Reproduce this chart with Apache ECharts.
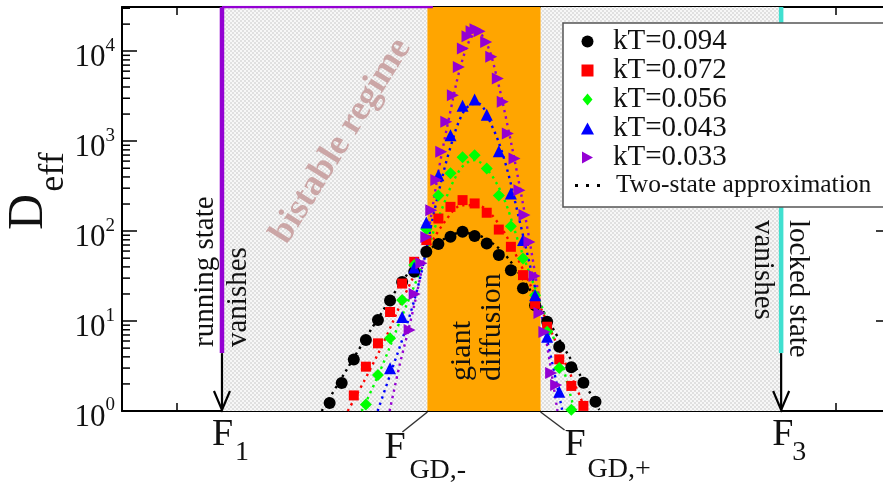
<!DOCTYPE html>
<html><head><meta charset="utf-8">
<script src="https://cdn.jsdelivr.net/npm/echarts@6/dist/echarts.min.js"></script>
<style>html,body{margin:0;padding:0;background:#fff}#c{width:883px;height:485px}</style>
</head><body><div id="c"></div>
<script>
// ---------- data ----------
const FONT = '"Liberation Serif","Times New Roman",serif';
const X_MIN = 0, X_MAX = 70, Y_MIN = 1, Y_MAX = 31000;
const F1 = 9.1, F_GD_MINUS = 27.8, F_GD_PLUS = 38.1, F3 = 60;
const ARROW_TOP = 4.4, RUN_TOP_END = 28.3;

const seriesNames = ['kT=0.094', 'kT=0.072', 'kT=0.056', 'kT=0.043', 'kT=0.033'];
const TWO_STATE = 'Two-state approximation';

const xBlack = [18.9, 20.0, 21.1, 22.2, 23.3, 24.4, 25.5, 26.6, 27.7, 28.8, 29.9, 31.0, 32.1, 33.2, 34.3, 35.4, 36.5, 37.6, 38.7, 39.8, 40.9, 42.0, 43.1];
const yBlack = [1.23, 2.05, 3.73, 6.15, 10.3, 16.9, 27.1, 35.3, 58.9, 71.7, 86.4, 98.2, 88.0, 73.0, 54.1, 36.6, 23.1, 15.0, 9.8, 5.18, 3.06, 2.06, 1.27];

const xRed = [21.1, 22.2, 23.3, 24.4, 25.5, 26.6, 27.7, 28.8, 29.9, 31.0, 32.1, 33.2, 34.3, 35.4, 36.5, 37.6, 38.7, 39.8, 40.9, 42.0];
const yRed = [1.49, 3.11, 5.65, 12.6, 26.1, 45.6, 79.4, 138, 186, 221, 203, 160, 104, 66.9, 32.4, 15.5, 8.65, 3.75, 1.9, 1.14];

const xGreen = [22.2, 23.3, 24.4, 25.5, 26.6, 27.7, 28.8, 29.9, 31.0, 32.1, 33.2, 34.3, 35.4, 36.5, 37.6, 38.7, 39.8, 40.9];
const yGreen = [1.18, 2.51, 6.43, 17.1, 42, 105, 248, 441, 664, 699, 497, 248, 113, 49.7, 19.4, 7.6, 3.0, 1.03];

const xBlue = [24.4, 25.5, 26.6, 27.7, 28.8, 29.9, 31.0, 32.1, 33.2, 34.3, 35.4, 36.5, 37.6, 38.7, 39.8];
const yBlue = [2.98, 11.1, 39.3, 125, 419, 1166, 2479, 2904, 1968, 774, 262, 79.4, 19.4, 6.7, 1.64];

const xPurple = [26.18, 26.64, 27.25, 27.7, 28.15, 28.61, 29.06, 29.52, 30.12, 30.66, 31.03, 31.45, 31.82, 32.18, 32.55, 33.15, 33.61, 34.21, 34.66, 35.12, 35.73, 36.18, 36.64, 37.09, 37.55, 38.0, 38.45, 39.06, 39.52];
const yPurple = [7.94, 19.95, 43.8, 85.8, 171, 369, 761, 1638, 3245, 6693, 10720, 14680, 16680, 17550, 16680, 12690, 8650, 4975, 2734, 1218, 642, 285, 151, 75.5, 31.6, 12.3, 7.55, 2.64, 1.94];

// two-state approximation curves
const xThBlack = [18.18, 19.82, 21.64, 23.45, 25.27, 27.09, 28.91, 30.73, 32.09, 33.45, 34.82, 36.18, 38.0, 39.82, 41.64, 43.45];
const yThBlack = [1.0, 2.15, 5.01, 11.4, 25.1, 48.9, 75.5, 95, 92.6, 77.4, 55.5, 33.3, 15.1, 6.15, 2.58, 1.03];
const xThRed = [20.55, 22.09, 23.91, 25.73, 27.55, 29.36, 31.0, 32.55, 34.36, 36.18, 38.0, 39.82, 41.64, 42.18];
const yThRed = [1.0, 2.21, 6.15, 19.4, 54.1, 126, 194, 190, 117, 45.2, 15.1, 4.76, 1.51, 1.0];
const xThGreen = [21.82, 23.45, 25.27, 27.09, 28.91, 30.73, 32.09, 33.45, 34.82, 36.18, 38.0, 39.82, 41.18];
const yThGreen = [1.0, 2.71, 9.75, 35.0, 151, 476, 615, 452, 221, 69.9, 17.1, 4.19, 1.0];
const xThBlue = [23.27, 24.55, 25.73, 27.09, 28.45, 29.82, 31.18, 32.36, 33.64, 34.82, 36.18, 37.55, 38.91, 40.09];
const yThBlue = [1.0, 2.85, 7.55, 28.5, 171, 794, 2210, 2643, 1506, 615, 132, 25.1, 4.76, 1.0];
const xThPurple = [24.36, 25.27, 26.18, 27.09, 28.0, 28.91, 29.82, 30.73, 31.64, 32.36, 33.27, 34.18, 35.09, 36.18, 37.09, 38.0, 38.91, 39.64];
const yThPurple = [1.0, 3.24, 9.03, 28.5, 117, 541, 1945, 6150, 13250, 16250, 11660, 4760, 1506, 324, 79.4, 17.1, 3.69, 1.0];

const yMinorTicks = [2, 3, 4, 5, 6, 7, 8, 9, 20, 30, 40, 50, 60, 70, 80, 90, 200, 300, 400, 500, 600, 700, 800, 900,
  2000, 3000, 4000, 5000, 6000, 7000, 8000, 9000, 20000, 30000];

const COLORS = ['#000000', '#ff0000', '#00ff00', '#0000ff', '#9400d3'];

// ---------- chart ----------
const zip = (xs, ys) => xs.map((x, i) => [x, ys[i]]);
const chart = echarts.init(document.getElementById('c'), null, {renderer: 'canvas'});

function checker() {
  const c = document.createElement('canvas'); c.width = 4; c.height = 4;
  const g = c.getContext('2d');
  g.fillStyle = '#f7f7f7'; g.fillRect(0, 0, 4, 4);
  g.fillStyle = '#e0e0e0'; g.fillRect(0, 0, 2, 2); g.fillRect(2, 2, 2, 2);
  return c;
}
const hatch = {image: checker(), repeat: 'repeat'};

const axisLineStyle = {color: '#000', width: 2};
const tickStyle = {color: '#000', width: 1.5};
function xAxisDef(pos) {
  return {type: 'value', position: pos, min: X_MIN, max: X_MAX, interval: 10,
    axisLine: {show: true, onZero: false, lineStyle: axisLineStyle},
    axisTick: {show: true, inside: true, length: 15, lineStyle: tickStyle},
    minorTick: {show: true, splitNumber: 2, length: 8, lineStyle: tickStyle},
    axisLabel: {show: false}, splitLine: {show: false}, minorSplitLine: {show: false}};
}
function yAxisDef(pos, labels) {
  return {type: 'log', logBase: 10, position: pos, min: Y_MIN, max: Y_MAX,
    axisLine: {show: true, onZero: false, lineStyle: axisLineStyle},
    axisTick: {show: true, inside: true, length: 15, lineStyle: tickStyle},
    splitLine: {show: false},
    axisLabel: labels ? {
      show: true, margin: 7, color: '#111',
      formatter: function (v) {
        const e = Math.round(Math.log10(v));
        if (Math.abs(v - Math.pow(10, e)) > 1e-6 * v) return '';
        return '{b|10}{s|' + e + '}';
      },
      rich: {
        b: {fontFamily: FONT, fontSize: 31, lineHeight: 30, padding: [14, 0, 0, 0], color: '#111'},
        s: {fontFamily: FONT, fontSize: 19, lineHeight: 29, verticalAlign: 'top', color: '#111'}
      }
    } : {show: false}};
}

const scatterDefs = [
  {symbol: 'circle', size: 12, rot: 0, xs: xBlack, ys: yBlack, icon: 'circle'},
  {symbol: 'rect', size: 10, rot: 0, xs: xRed, ys: yRed, icon: 'path://M0 0h10v10H0z'},
  {symbol: 'diamond', size: 12, rot: 0, xs: xGreen, ys: yGreen, icon: 'path://M5 0L10 6L5 12L0 6z'},
  {symbol: 'triangle', size: 12, rot: 0, xs: xBlue, ys: yBlue, icon: 'path://M6 0L12 11H0z'},
  {symbol: 'triangle', size: 12, rot: -90, xs: xPurple, ys: yPurple, icon: 'path://M0 0L11 6L0 12z'}
];
const theoryDefs = [[xThBlack, yThBlack], [xThRed, yThRed], [xThGreen, yThGreen], [xThBlue, yThBlue], [xThPurple, yThPurple]];

const series = [];
// regions
series.push({type: 'line', data: [], z: 1, silent: true,
  markArea: {silent: true, data: [
    [{xAxis: F1, itemStyle: {color: hatch}}, {xAxis: F_GD_MINUS}],
    [{xAxis: F_GD_PLUS, itemStyle: {color: hatch}}, {xAxis: F3}],
    [{xAxis: F_GD_MINUS, itemStyle: {color: '#ffa500'}}, {xAxis: F_GD_PLUS}]
  ]}});
// boundary lines
series.push({type: 'line', data: [[F1, Y_MAX], [F1, ARROW_TOP]], symbol: 'none', silent: true, z: 2,
  lineStyle: {color: '#9400d3', width: 4.5}});
series.push({type: 'line', data: [[F1, Y_MAX], [RUN_TOP_END, Y_MAX]], symbol: 'none', silent: true, z: 2,
  lineStyle: {color: '#9400d3', width: 2.5}});
series.push({type: 'line', data: [[F3, Y_MAX], [F3, ARROW_TOP]], symbol: 'none', silent: true, z: 2,
  lineStyle: {color: '#40e0d0', width: 4.5}});
// theory lines
theoryDefs.forEach((t, i) => {
  series.push({type: 'line', name: i === 0 ? TWO_STATE : 'two-state ' + seriesNames[i],
    data: zip(t[0], t[1]), smooth: 0.35, showSymbol: false, symbol: 'none', z: 3, silent: true,
    itemStyle: {color: COLORS[i]},
    lineStyle: {color: COLORS[i], width: 2.4, type: [2.4, 4.2], cap: 'butt'}});
});
// data points
scatterDefs.forEach((d, i) => {
  series.push({type: 'scatter', name: seriesNames[i], data: zip(d.xs, d.ys), symbol: d.symbol,
    symbolSize: d.size, symbolRotate: d.rot, z: 4, itemStyle: {color: COLORS[i], opacity: 1}});
});
// y minor ticks (log spaced)
series.push({type: 'custom', silent: true, z: 6, clip: false,
  data: yMinorTicks.map(v => [X_MIN, v]),
  renderItem: function (params, api) {
    const cs = params.coordSys;
    const y = api.coord([X_MIN, api.value(1)])[1];
    return {type: 'group', children: [
      {type: 'line', shape: {x1: cs.x, y1: y, x2: cs.x + 8, y2: y}, style: {stroke: '#000', lineWidth: 1.5}},
      {type: 'line', shape: {x1: cs.x + cs.width - 8, y1: y, x2: cs.x + cs.width, y2: y}, style: {stroke: '#000', lineWidth: 1.5}}
    ]};
  }});

const option = {
  animation: false,
  backgroundColor: '#fff',
  grid: {left: 122, top: 7, width: 769, height: 404, containLabel: false, outerBoundsMode: 'none'},
  legend: {
    orient: 'vertical', left: 563, top: 23, padding: [4, 60, 8, 12],
    itemWidth: 25, itemHeight: 12, itemGap: 0, selectedMode: false, symbolRotate: 0,
    backgroundColor: '#fff', borderColor: '#555', borderWidth: 1.5, z: 20,
    textStyle: {fontFamily: FONT, fontSize: 29, color: '#111', lineHeight: 27, padding: [0, 0, 0, 8]},
    data: seriesNames.map((n, i) => ({name: n, icon: scatterDefs[i].icon})).concat([{name: TWO_STATE,
      icon: 'path://M0 0h3v3H0z M11 0h3v3h-3z M22 0h3v3h-3z',
      textStyle: {fontFamily: FONT, fontSize: 25.5, color: '#111', lineHeight: 27, padding: [0, 0, 0, 11]}}])
  },
  xAxis: [xAxisDef('bottom'), xAxisDef('top')],
  yAxis: [yAxisDef('left', true), yAxisDef('right', false)],
  series: series
};
chart.setOption(option);

// ---------- annotations placed through the axes ----------
function annotate() {
  const P = (x, y) => chart.convertToPixel({xAxisIndex: 0, yAxisIndex: 0}, [x, y]);
  const [x1, yb] = P(F1, Y_MIN);
  const ya = P(F1, ARROW_TOP)[1];
  const x3 = P(F3, Y_MIN)[0];
  const xg1 = P(F_GD_MINUS, Y_MIN)[0];
  const xg2 = P(F_GD_PLUS, Y_MIN)[0];
  const T = (x, y, text, size, extra) => Object.assign({type: 'text', x: x, y: y, z: 50, silent: true,
    style: Object.assign({text: text, fontFamily: FONT, fontSize: size, fill: '#111', align: 'left', verticalAlign: 'middle'}, (extra && extra.style) || {})},
    extra && extra.rotation !== undefined ? {rotation: extra.rotation} : {});
  const g = [];
  [x1, x3].forEach(x => {
    g.push({type: 'line', z: 50, silent: true, shape: {x1: x, y1: ya, x2: x, y2: yb - 1}, style: {stroke: '#000', lineWidth: 2.2}});
    g.push({type: 'polyline', z: 50, silent: true, shape: {points: [[x - 8, yb - 20], [x, yb - 1], [x + 8, yb - 20]]},
      style: {stroke: '#000', lineWidth: 2.2, fill: null}});
  });
  // leader lines
  g.push({type: 'line', z: 50, silent: true, shape: {x1: xg1, y1: yb + 1, x2: xg1 - 25, y2: yb + 21}, style: {stroke: '#333', lineWidth: 1.5}});
  g.push({type: 'line', z: 50, silent: true, shape: {x1: xg2, y1: yb + 1, x2: xg2 + 24, y2: yb + 19}, style: {stroke: '#333', lineWidth: 1.5}});
  // F labels
  g.push(T(x1 - 10, yb + 24, 'F', 38));
  g.push(T(x1 + 13, yb + 42, '1', 28));
  g.push(T(x3 - 9, yb + 24.5, 'F', 38));
  g.push(T(x3 + 11, yb + 42, '3', 28));
  g.push(T(xg1 - 43, yb + 37.5, 'F', 38));
  g.push(T(xg1 - 18, yb + 60, 'GD,-', 28));
  g.push(T(xg2 + 24, yb + 34, 'F', 38));
  g.push(T(xg2 + 47, yb + 59, 'GD,+', 28));
  // rotated annotations
  g.push(T(x1 - 0.5, yb - 64, 'running state\nvanishes', 29, {rotation: Math.PI / 2, style: {lineHeight: 33}}));
  g.push(T(x3 - 1.5, 220, 'locked state\nvanishes', 29, {rotation: -Math.PI / 2, style: {lineHeight: 35}}));
  g.push(T((xg1 + xg2) / 2 - 6.5, yb - 30, 'giant\ndiffusion', 30, {rotation: Math.PI / 2, style: {lineHeight: 30}}));
  g.push(T(341, 141, 'bistable regime', 36, {rotation: 58 * Math.PI / 180,
    style: {align: 'center', fontWeight: 'bold', fill: '#cba6a6'}}));
  // y axis title
  g.push(T(29, 212, 'D', 50, {rotation: Math.PI / 2, style: {align: 'center'}}));
  g.push(T(54, 172, 'eff', 36, {rotation: Math.PI / 2, style: {align: 'center'}}));
  chart.setOption({graphic: g});
}
annotate();
</script>
</body></html>
